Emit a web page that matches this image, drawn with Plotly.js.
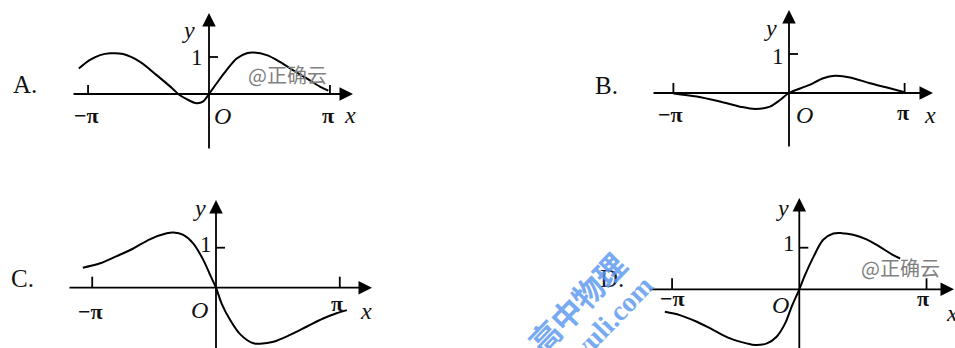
<!DOCTYPE html>
<html><head><meta charset="utf-8">
<script src="https://cdn.plot.ly/plotly-3.0.1.min.js"></script>
<style>html,body{margin:0;padding:0;background:#fff;}#chart{width:955px;height:348px;}</style>
</head><body><div id="chart"></div>
<script>
const PI = Math.PI;
// tick labels
const xTickVals = [-PI, PI];
const xTickText = ['\u2212\u03c0', '\u03c0'];
const yTickVals = [1];
const yTickText = ['1'];
const panelLetters = ['A.', 'B.', 'C.', 'D.'];
const originText = 'O';
const xName = 'x';
const yName = 'y';
const watermarkText = '@正确云';
const siteText1 = '高中物理';
const siteText2 = 'gaozhongwuli.com';

// curve A
const aX = [-3.38,-3.09,-2.83,-2.57,-2.23,-1.79,-1.36,-0.93,-0.80,-0.58,-0.32,-0.15,0,0.2,0.46,0.72,0.98,1.15,1.5,1.84,2.19,2.54,2.88,3.10];
const aY = [0.69,0.92,1.05,1.10,1.08,0.87,0.51,0.13,0,-0.14,-0.25,-0.20,0,0.29,0.65,0.96,1.10,1.12,1.05,0.87,0.64,0.42,0.20,0.09];
// curve B
const bX = [-3.14,-2.51,-1.875,-1.33,-0.92,-0.52,-0.245,0,0.54,0.93,1.25,1.66,2.2,2.74,3.14];
const bY = [-0.01,-0.09,-0.22,-0.35,-0.41,-0.35,-0.18,0,0.2,0.38,0.44,0.4,0.25,0.12,0.02];
// curve C
const cX = [-3.38,-2.94,-2.52,-2.10,-1.68,-1.25,-1.08,-0.83,-0.58,-0.32,-0.15,0,0.14,0.36,0.61,0.95,1.12,1.46,1.88,2.31,2.72,3.06,3.32];
const cY = [0.5,0.61,0.79,0.98,1.21,1.36,1.38,1.32,1.11,0.69,0.32,0,-0.39,-0.81,-1.16,-1.39,-1.40,-1.35,-1.18,-0.97,-0.77,-0.64,-0.56];
// curve D
const dX = [-3.32,-2.95,-2.53,-2.12,-1.71,-1.30,-1.09,-0.80,-0.56,-0.35,-0.19,0,0.14,0.35,0.59,0.84,1.05,1.33,1.66,1.99,2.32,2.49];
const dY = [-0.54,-0.62,-0.78,-0.98,-1.18,-1.30,-1.34,-1.30,-1.14,-0.82,-0.42,0,0.34,0.78,1.19,1.34,1.35,1.31,1.20,1.02,0.82,0.74];

const curves = [[aX,aY],[bX,bY],[cX,cY],[dX,dY]];

// layout geometry (pixels)
const W = 955, H = 348;
const panels = [
  {ox:209, oy:94, sx:38.5, sy:37, box:[55,365,0,172], xAx:[72,353], yAx:[150,13], tick:9,
   lab:{letter:[25,85], mpi:[86,116], pi:[328,116], O:[222,116], x:[350,115], y:[188,30], one:[197,58]}, wm:[287,74]},
  {ox:789, oy:93, sx:36.8, sy:39, box:[640,950,0,172], xAx:[652,933], yAx:[148,10], tick:10,
   lab:{letter:[606,86], mpi:[670,114], pi:[903,112], O:[804,115], x:[930,115], y:[770,28], one:[778,57]}},
  {ox:216, oy:287.7, sx:39.4, sy:40, box:[55,380,175,348], xAx:[68,372], yAx:[360,200], tick:11,
   lab:{letter:[22,278], mpi:[90,311], pi:[337,303], O:[199,310], x:[366,311], y:[199,208], one:[206,245]}},
  {ox:799.3, oy:289.3, sx:40.5, sy:41.6, box:[640,955,175,348], xAx:[648,954], yAx:[360,198], tick:11,
   lab:{letter:[612,278], mpi:[672,298], pi:[923,298], O:[780,305], x:[952,313], y:[782,208], one:[789,243]}, wm:[900,267]}
];

const serif = 'Liberation Serif, Times New Roman, serif';
const layout = {width:W, height:H, margin:{l:0,r:0,t:0,b:0}, paper_bgcolor:'#fff', plot_bgcolor:'rgba(0,0,0,0)',
  showlegend:false, shapes:[], annotations:[]};
const data = [];
function lbl(pos, text, size, opts) {
  return Object.assign({xref:'paper', yref:'paper', x:pos[0]/W, y:1-pos[1]/H, xanchor:'center', yanchor:'middle',
    showarrow:false, text:text, font:{family:serif, size:size, color:'#111'}}, opts||{});
}
panels.forEach((p,i)=>{
  const n = i===0 ? '' : String(i+1);
  const [x0,x1,y0,y1] = p.box;
  const px2x = v => (v - p.ox)/p.sx;
  const py2y = v => (p.oy - v)/p.sy;
  layout['xaxis'+n] = {domain:[x0/W, x1/W], range:[px2x(x0), px2x(x1)], visible:false, fixedrange:true, anchor:'y'+n};
  layout['yaxis'+n] = {domain:[1-y1/H, 1-y0/H], range:[py2y(y1), py2y(y0)], visible:false, fixedrange:true, anchor:'x'+n};
  data.push({x:curves[i][0], y:curves[i][1], xaxis:'x'+n, yaxis:'y'+n, mode:'lines',
    line:{color:'#000', width:2, shape:'spline', smoothing:0.9}, hoverinfo:'skip'});
  const ref = {xref:'x'+n, yref:'y'+n, axref:'x'+n, ayref:'y'+n, showarrow:true, text:'', arrowhead:2,
    arrowsize:1.5, arrowwidth:1.8, arrowcolor:'#000', standoff:0, startstandoff:0};
  layout.annotations.push(Object.assign({}, ref, {x:px2x(p.xAx[1]), y:0, ax:px2x(p.xAx[0]), ay:0}));
  layout.annotations.push(Object.assign({}, ref, {x:0, y:py2y(p.yAx[1]), ax:0, ay:py2y(p.yAx[0])}));
  xTickVals.forEach(v=>{
    layout.shapes.push({type:'line', xref:'x'+n, yref:'y'+n, x0:v, x1:v, y0:0, y1:p.tick/p.sy, line:{color:'#000', width:1.8}});
  });
  yTickVals.forEach(v=>{
    layout.shapes.push({type:'line', xref:'x'+n, yref:'y'+n, x0:0, x1:9/p.sx, y0:v, y1:v, line:{color:'#000', width:1.8}});
  });
  const L = p.lab;
  layout.annotations.push(lbl(L.letter, panelLetters[i], 25, i===3?{font:{family:serif,size:25,color:'#1a2240'}}:{}));
  layout.annotations.push(lbl(L.mpi, '<b>'+xTickText[0]+'</b>', 22));
  layout.annotations.push(lbl(L.pi, '<b>'+xTickText[1]+'</b>', 22));
  layout.annotations.push(lbl(L.O, '<i>'+originText+'</i>', 24));
  layout.annotations.push(lbl(L.x, '<i>'+xName+'</i>', 24));
  layout.annotations.push(lbl(L.y, '<i>'+yName+'</i>', 24));
  layout.annotations.push(lbl(L.one, yTickText[0], 23));
  if (p.wm) layout.annotations.push(lbl(p.wm, watermarkText, 20, {font:{family:'Noto Sans CJK SC, sans-serif', size:20, color:'#808080'}}));
});
// blue site watermark
layout.annotations.push(lbl([576,302], '<b>'+siteText1+'</b>', 31, {textangle:-46,
  font:{family:'Noto Sans CJK SC, sans-serif', size:31, color:'rgba(95,155,240,0.85)'}}));
layout.annotations.push(lbl([571,360], '<b>'+siteText2+'</b>', 28, {textangle:-46,
  font:{family:serif, size:28, color:'rgba(95,155,240,0.85)'}}));

Plotly.newPlot('chart', data, layout, {staticPlot:true, displayModeBar:false});
</script>
</body></html>
